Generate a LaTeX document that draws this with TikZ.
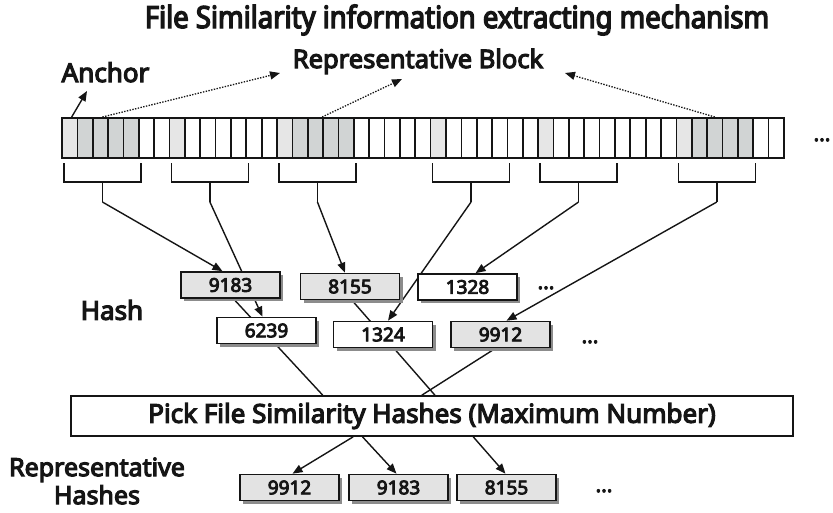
\documentclass[tikz,border=0pt]{standalone}
\usepackage{fontspec}
\setmainfont{Noto Sans}[AutoFakeBold=4.5]
\newfontfamily\titlefont{Noto Sans}[AutoFakeBold=4.5, FakeStretch=0.9]
\usetikzlibrary{calc,arrows.meta,shadows}
\pgfdeclarelayer{back}
\pgfsetlayers{back,main}

\definecolor{anchorgray}{HTML}{E6E6E6}
\definecolor{blockgray}{HTML}{D1D4D4}
\definecolor{hashgray}{HTML}{E3E3E3}
\definecolor{shadowgray}{HTML}{8C8C8C}
\definecolor{ink}{HTML}{151515}

\begin{document}
\begin{tikzpicture}[x=1pt,y=-1pt,
  every node/.style={text=ink},
  cell/.style={draw=ink, line width=1.7pt, minimum width=15.36pt, minimum height=40pt,
    inner sep=0pt, outer sep=0pt, anchor=north west},
  bracket/.style={draw=ink, line width=1.4pt},
  link/.style={draw=ink, line width=1.4pt},
  arr/.style={link, -{Triangle[length=10pt,width=8pt]}},
  dotarr/.style={draw=ink, line width=1.3pt, dash pattern=on 1.4pt off 1.4pt,
    -{Triangle[length=10pt,width=8pt]}},
  hashbox/.style={draw=ink, line width=1.7pt, fill=white, minimum width=99pt,
    minimum height=26pt, inner sep=0pt,
    font=\bfseries\fontsize{19}{19}\selectfont,
    drop shadow={shadow xshift=3pt, shadow yshift=-3pt, fill=shadowgray, opacity=1}},
  grayhash/.style={hashbox, fill=hashgray},
  caption/.style={font=\bfseries\fontsize{#1}{#1}\selectfont, inner sep=0pt},
  dots/.style={font=\bfseries\fontsize{21}{21}\selectfont, inner sep=0pt, anchor=base}
]
\useasboundingbox (0,0) rectangle (833,512);

% title and captions
\node[inner sep=0pt, anchor=base, font=\titlefont\bfseries\fontsize{30.5}{30.5}\selectfont] (title) at (457,28)
  {File Similarity information extracting mechanism};
\node[caption=25.5, anchor=base] (rblock) at (418,68) {Representative Block};
\node[caption=26, anchor=base] (anchorlbl) at (105.5,82) {Anchor};
\node[caption=26] (hashlbl) at (112,310) {Hash};
\node[align=center, inner sep=0pt, font=\bfseries\fontsize{25}{28}\selectfont] (replbl) at (97,481) {Representative\\Hashes};

% the block strip
\foreach \i in {0,7,14,24,31,40}
  \node[cell, fill=anchorgray] (c\i) at ({62+15.36*\i},118) {};
\foreach \i in {1,2,3,4,15,16,17,18,41,42,43,44}
  \node[cell, fill=blockgray] (c\i) at ({62+15.36*\i},118) {};
\foreach \i in {5,6,8,9,10,11,12,13,19,20,21,22,23,25,26,27,28,29,30,32,33,34,35,36,37,38,39,45,46}
  \node[cell, fill=white] (c\i) at ({62+15.36*\i},118) {};
\draw[ink, line width=2.4pt] (c0.north west) rectangle (c46.south east);
\node[dots] (stripdots) at (822,141) {...};

% brackets grouping five blocks, each ending in a stem
\foreach \a/\n in {0/1,7/2,14/3,24/4,31/5,40/6}{
  \pgfmathtruncatemacro\e{\a+4}
  \draw[bracket] ($(c\a.south west)+(2,5)$) -- ($(c\a.south west)+(2,24)$)
    -- ($(c\e.south east)+(2,24)$) -- ($(c\e.south east)+(2,5)$);
  \coordinate (m\n) at ($(c\a.south west)!0.5!(c\e.south east)+(2,24)$);
  \coordinate (s\n) at ($(m\n)+(0,20)$);
  \draw[bracket] (m\n) -- (s\n);
}

% arrows to the captions
\coordinate (rb1) at (280,73);
\coordinate (rb2) at (402,79);
\coordinate (rb3) at (565,73);
\coordinate (anc) at (87,91);
\draw[dotarr] ($(c2.north)+(2,-1)$) -- (rb1);
\draw[dotarr] ($(c16.north east)+(-1,-1)$) -- (rb2);
\draw[dotarr] ($(c42.north)+(0,-1)$) -- (rb3);
\draw[arr] ($(c0.north)+(2,-1)$) -- (anc);

% hash values
\node[grayhash] (h9183) at (230.5,285) {9183};
\node[grayhash] (h8155) at (350,286.5) {8155};
\node[hashbox]  (h1328) at (467.5,287) {1328};
\node[hashbox]  (h6239) at (266.5,330.5) {6239};
\node[hashbox]  (h1324) at (383,334.5) {1324};
\node[grayhash] (h9912) at (500.5,334.5) {9912};
\node[dots] (dotsA) at (546,289) {...};
\node[dots] (dotsB) at (590,343) {...};

% selection step
\node[draw=ink, line width=1.7pt, fill=white, minimum width=722pt, minimum height=40pt,
  inner sep=0pt, font=\bfseries\fontsize{26}{26}\selectfont] (pick) at (432,416)
  {Pick File Similarity Hashes (Maximum Number)};

% representative hashes
\node[grayhash] (r9912) at (289.5,487.5) {9912};
\node[grayhash] (r9183) at (398.5,487.5) {9183};
\node[grayhash] (r8155) at (506.5,487.5) {8155};
\node[dots] (dotsC) at (604,492) {...};

% connectors running behind the boxes
\begin{pgfonlayer}{back}
  \draw[arr] (s1) -- ($(h9183.north west)!0.42!(h9183.north east)$);
  \draw[arr] (s2) -- ($(h6239.north west)!0.46!(h6239.north east)$);
  \draw[arr] (s3) -- ($(h8155.north west)!0.45!(h8155.north east)$);
  \draw[arr] (s4) -- ($(h1324.north west)!0.55!(h1324.north east)$);
  \draw[arr] (s5) -- ($(h1328.north west)!0.58!(h1328.north east)$);
  \draw[arr] (s6) -- ($(h9912.north west)!0.56!(h9912.north east)$);
  \draw[link] ($(h9183.south west)!0.53!(h9183.south east)$) -- ($(pick.north west)!0.349!(pick.north east)$);
  \draw[link] ($(h8155.south west)!0.52!(h8155.south east)$) -- ($(pick.north west)!0.504!(pick.north east)$);
  \draw[link] ($(h9912.south west)!0.45!(h9912.south east)$) -- ($(pick.north west)!0.486!(pick.north east)$);
\end{pgfonlayer}
\draw[arr] ($(pick.south west)!0.391!(pick.south east)$) -- ($(r9912.north west)!0.53!(r9912.north east)$);
\draw[arr] ($(pick.south west)!0.404!(pick.south east)$) -- ($(r9183.north west)!0.48!(r9183.north east)$);
\draw[arr] ($(pick.south west)!0.557!(pick.south east)$) -- ($(r8155.north west)!0.49!(r8155.north east)$);
\end{tikzpicture}
\end{document}
